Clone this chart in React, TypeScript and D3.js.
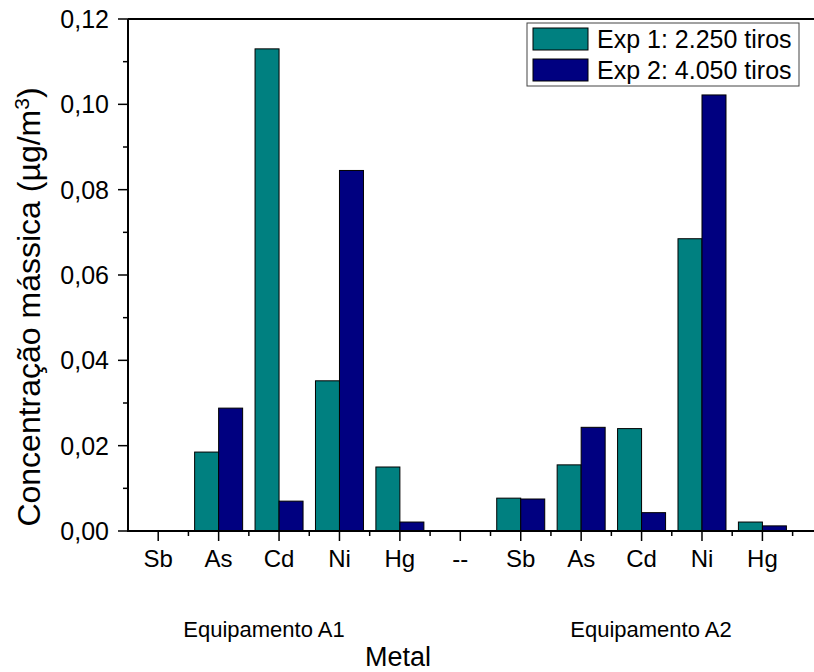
import React from "react";
import * as d3 from "d3";

const categories = ["Sb", "As", "Cd", "Ni", "Hg", "--", "Sb", "As", "Cd", "Ni", "Hg"];
const exp1 = [0, 0.0185, 0.113, 0.0352, 0.015, 0, 0.0077, 0.0155, 0.024, 0.0685, 0.0021];
const exp2 = [0, 0.0288, 0.007, 0.0845, 0.0021, 0, 0.0075, 0.0243, 0.0043, 0.1022, 0.0012];
const seriesNames = ["Exp 1: 2.250 tiros", "Exp 2: 4.050 tiros"];
const seriesColors = ["#008080", "#000080"];
const yTicks = [0, 0.02, 0.04, 0.06, 0.08, 0.1, 0.12];
const yMinorTicks = [0.01, 0.03, 0.05, 0.07, 0.09, 0.11];
const groupLabels = ["Equipamento A1", "Equipamento A2"];

const W = 814;
const H = 672;
const L = 128;
const T = 19;
const B = 531;
const STEP = 60.42;

export default function App() {
  const x = d3.scaleLinear().domain([0.5, 12.5]).range([L, L + 12 * STEP]);
  const y = d3.scaleLinear().domain([0, 0.12]).range([B, T]);
  const barW = 24;
  const fmt = (v: number) => d3.format(".2f")(v).replace(".", ",");
  const font = "'Liberation Sans', Arial, sans-serif";
  const minorX = d3.range(1.5, 12, 1);

  return (
    <svg width={W} height={H} style={{ position: "absolute", left: 0, top: 0 }} fontFamily={font}>
      <rect x={0} y={0} width={W} height={H} fill="#fff" />
      {categories.map((c, i) => {
        const cx = x(i + 1);
        return (
          <g key={i}>
            {exp1[i] > 0 && (
              <rect x={cx - barW} y={y(exp1[i])} width={barW} height={B - y(exp1[i])}
                fill={seriesColors[0]} stroke="#000" strokeWidth={1} />
            )}
            {exp2[i] > 0 && (
              <rect x={cx} y={y(exp2[i])} width={barW} height={B - y(exp2[i])}
                fill={seriesColors[1]} stroke="#000" strokeWidth={1} />
            )}
          </g>
        );
      })}
      <line x1={L} x2={W} y1={T} y2={T} stroke="#000" strokeWidth={2} />
      <line x1={L} x2={L} y1={T} y2={B} stroke="#000" strokeWidth={2} />
      <line x1={L - 1} x2={W} y1={B} y2={B} stroke="#000" strokeWidth={2} />
      {yTicks.map((t) => (
        <g key={t}>
          <line x1={L - 10} x2={L} y1={y(t)} y2={y(t)} stroke="#000" strokeWidth={1.5} />
          <text x={L - 19} y={y(t)} dy="0.36em" textAnchor="end" fontSize={25}>{fmt(t)}</text>
        </g>
      ))}
      {yMinorTicks.map((t) => (
        <line key={t} x1={L - 5} x2={L} y1={y(t)} y2={y(t)} stroke="#000" strokeWidth={1.5} />
      ))}
      {categories.map((c, i) => (
        <g key={i}>
          <line x1={x(i + 1)} x2={x(i + 1)} y1={B} y2={B + 10} stroke="#000" strokeWidth={1.5} />
          <text x={x(i + 1)} y={567} textAnchor="middle" fontSize={24}>{c}</text>
        </g>
      ))}
      {minorX.map((t) => (
        <line key={t} x1={x(t)} x2={x(t)} y1={B} y2={B + 5} stroke="#000" strokeWidth={1.5} />
      ))}
      <text x={264} y={637} textAnchor="middle" fontSize={22}>{groupLabels[0]}</text>
      <text x={651} y={637} textAnchor="middle" fontSize={22}>{groupLabels[1]}</text>
      <text x={398} y={666} textAnchor="middle" fontSize={27}>Metal</text>
      <text transform={`translate(40, 307) rotate(-90)`} textAnchor="middle" fontSize={32}>
        Concentração mássica (µg/m<tspan dy="-11" fontSize={21}>3</tspan><tspan dy="11">)</tspan>
      </text>
      <rect x={527} y={23} width={272} height={63} fill="#fff" stroke="#444" strokeWidth={1} />
      {seriesNames.map((s, i) => (
        <g key={s}>
          <rect x={533} y={28 + i * 31} width={55} height={22} fill={seriesColors[i]} stroke="#000" strokeWidth={1} />
          <text x={597} y={48 + i * 31} fontSize={25}>{s}</text>
        </g>
      ))}
    </svg>
  );
}
